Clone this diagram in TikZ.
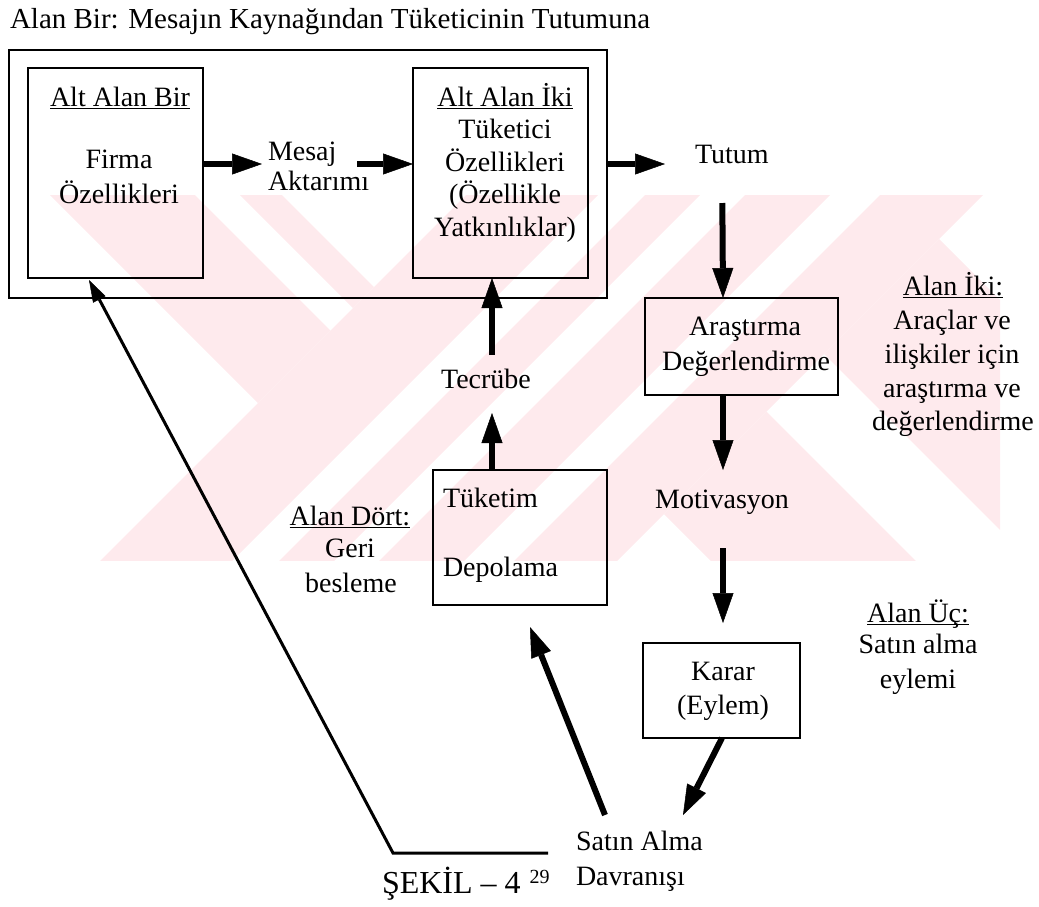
\documentclass[tikz,border=0pt]{standalone}
\usepackage{fontspec}
\setmainfont{Liberation Serif}
\usetikzlibrary{arrows.meta,calc}
\definecolor{wm}{RGB}{254,234,237}
% underline with a fixed rule position
\newcommand\ulx[1]{\setbox0\hbox{#1}\rlap{\rule[-3pt]{\wd0}{1.3pt}}\box0}
\begin{document}
\begin{tikzpicture}[x=1pt,y=-1pt,
  boxs/.style={draw, line width=2.5pt, inner sep=0pt, outer sep=0pt},
  txt/.style={inner sep=0pt, outer sep=0pt, font=\fontsize{28}{33}\selectfont},
  fat/.style={line width=6pt, -{Triangle[length=30pt,width=21pt,line width=0.5pt]}},
  slim/.style={line width=3pt, -{Triangle[length=22pt,width=14pt,line width=0.5pt]}}]
\useasboundingbox (0,0) rectangle (1039,906);

% faint background emblem made of diagonal bands
\begin{scope}
  \clip (50,195) rectangle (1000,560);
  \fill[wm] (27.5,172.5) -- (100,100) -- (330.5,330.5) -- (258,403) -- cycle;
  \fill[wm] (122.5,77.5) -- (143.5,56.5) -- (374,287) -- (353,308) -- cycle;
  \fill[wm] (-19.5,680.5) -- (46.5,746.5) -- (846.5,-53.5) -- (780.5,-119.5) -- cycle;
  \fill[wm] (70,770) -- (97.5,797.5) -- (897.5,-2.5) -- (870,-30) -- cycle;
  \fill[wm] (120,820) -- (162.5,862.5) -- (962.5,62.5) -- (920,20) -- cycle;
  \fill[wm] (187.5,887.5) -- (239,939) -- (1039,139) -- (987.5,87.5) -- cycle;
  \fill[wm] (664,514) -- (766.5,411.5) -- (1277.5,922.5) -- (1175,1025) -- cycle;
  \fill[wm] (824,354) -- (939,239) -- (1450,750) -- (1335,865) -- cycle;
\end{scope}

% title
\node[txt, anchor=base west, font=\fontsize{29}{34}\selectfont] (title) at (10,28)
  {Alan Bir: Mesajın Kaynağından Tüketicinin Tutumuna};

% boxes
\node[boxs, minimum width=598pt, minimum height=248pt] (alanbir) at (308,174) {};
\node[boxs, minimum width=175pt, minimum height=210pt] (altbir) at (115.5,173) {};
\node[boxs, minimum width=175pt, minimum height=210pt] (altiki) at (500.5,173) {};
\node[boxs, minimum width=193pt, minimum height=97pt] (arastirma) at (741.5,346.5) {};
\node[boxs, minimum width=174pt, minimum height=135pt] (tuketim) at (520,537.5) {};
\node[boxs, minimum width=157pt, minimum height=95pt] (karar) at (721.5,690.5) {};

% texts inside the boxes
\node[txt,anchor=base] (ab1) at (120,106) {\ulx{Alt Alan Bir}};
\node[txt,anchor=base] (ab2) at (119,168) {Firma};
\node[txt,anchor=base] (ab3) at (119,203) {Özellikleri};
\node[txt,anchor=base] (ai1) at (505,106) {\ulx{Alt Alan İki}};
\node[txt,anchor=base] (ai2) at (505,138) {Tüketici};
\node[txt,anchor=base] (ai3) at (505,171) {Özellikleri};
\node[txt,anchor=base] (ai4) at (505,203) {(Özellikle};
\node[txt,anchor=base] (ai5) at (505,236) {Yatkınlıklar)};
\node[txt,anchor=base] (ar1) at (745,335) {Araştırma};
\node[txt,anchor=base] (ar2) at (746,370) {Değerlendirme};
\node[txt,anchor=base] (ka1) at (723,680) {Karar};
\node[txt,anchor=base] (ka2) at (723,714) {(Eylem)};
\node[txt,anchor=base west] (tu1) at (443,507) {Tüketim};
\node[txt,anchor=base west] (tu2) at (443,576) {Depolama};

% free labels
\node[txt,anchor=base west] (mesaj) at (268,160) {Mesaj};
\node[txt,anchor=base west] (aktarim) at (268,190) {Aktarımı};
\node[txt,anchor=base west] (tutum) at (695,163) {Tutum};
\node[txt,anchor=base] (motiv) at (722,508) {Motivasyon};
\node[txt,anchor=base west] (satin) at (576,850) {Satın Alma};
\node[txt,anchor=base west] (davranis) at (576,885) {Davranışı};
\node[txt,anchor=base] (tecrube) at (486,388) {Tecrübe};

% area captions
\node[txt,anchor=base] (ad1) at (350,525) {\ulx{Alan Dört:}};
\node[txt,anchor=base] (ad2) at (350,557) {Geri};
\node[txt,anchor=base] (ad3) at (351,592) {besleme};
\node[txt,anchor=base] (ak1) at (953,295) {\ulx{Alan İki:}};
\node[txt,anchor=base] (ak2) at (952,329) {Araçlar ve};
\node[txt,anchor=base] (ak3) at (952,363) {ilişkiler için};
\node[txt,anchor=base] (ak4) at (952,397) {araştırma ve};
\node[txt,anchor=base] (ak5) at (953,430) {değerlendirme};
\node[txt,anchor=base] (au1) at (918,622) {\ulx{Alan Üç:}};
\node[txt,anchor=base] (au2) at (918,653) {Satın alma};
\node[txt,anchor=base] (au3) at (918,688) {eylemi};

% figure number
\node[txt,anchor=base west] (sekil) at (382,893)
  {\fontsize{32}{36}\selectfont ŞEKİL – 4\hspace{9pt}\raisebox{10pt}{\fontsize{20}{24}\selectfont 29}};

% connectors
\draw[fat] ($(altbir.east)+(0,-9)$) -- ($(mesaj.base west)+(-6,4)$);
\draw[fat] ($(mesaj.base east)+(21,4)$) -- ($(altiki.west)+(0,-9)$);
\draw[fat] ($(alanbir.east)+(0,-10)$) -- ($(tutum.base west)+(-30,1)$);
\draw[fat] ($(tutum.base)+(-9.5,40)$) -- ($(arastirma.north)+(-18.5,0)$);
\draw[fat] ($(arastirma.south)+(-18.5,0)$) -- ($(motiv.base)+(1,-38)$);
\draw[fat] ($(motiv.base)+(1,40)$) -- ($(karar.north)+(1.5,-20)$);
\draw[fat] ($(karar.south)+(0.5,0)$) -- ($(satin.base west)+(107,-35)$);
\draw[fat] ($(satin.base west)+(29,-35)$) -- ($(tuketim.south)+(10,22)$);
\draw[fat] ($(tuketim.north)+(-28,0)$) -- ($(tecrube.base)+(6,25)$);
\draw[fat] ($(tecrube.base)+(6,-33)$) -- ($(altiki.south)+(-8.5,0)$);
\draw[slim] ($(satin.base west)+(-28,3)$) -- ++(-155,0) -- ($(altbir.south)+(-26.5,2)$);
\end{tikzpicture}
\end{document}
